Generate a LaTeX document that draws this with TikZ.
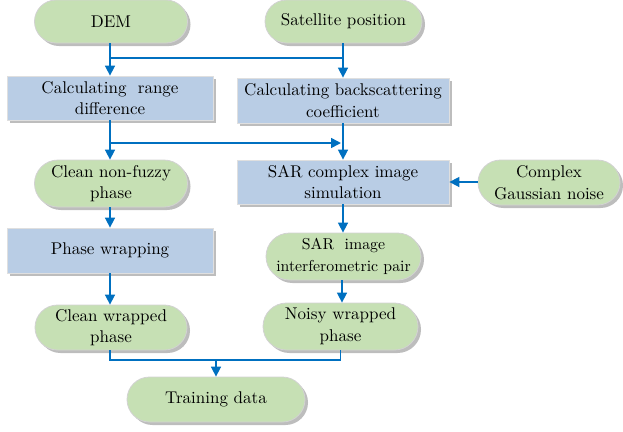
\documentclass[tikz,border=0pt]{standalone}
\usepackage{fontspec}
\setmainfont{lmroman10-regular.otf}
\usetikzlibrary{arrows.meta,shadows,shapes.misc}
\definecolor{pillgreen}{HTML}{C6E0B4}
\definecolor{boxblue}{HTML}{B9CDE5}
\definecolor{arrblue}{HTML}{0070C0}
\definecolor{shadowgray}{HTML}{BDBDBD}
\begin{document}
\begin{tikzpicture}[x=1bp,y=-1bp,
  every node/.style={font=\fontsize{17bp}{21.7bp}\selectfont, align=center, inner sep=0pt},
  pill/.style={rounded rectangle, draw=gray!35, line width=0.8bp, fill=pillgreen,
    drop shadow={shadow xshift=3bp, shadow yshift=-3bp, fill=shadowgray, opacity=1}},
  pbox/.style={rectangle, draw=gray!25, line width=0.8bp, fill=boxblue,
    drop shadow={shadow xshift=3bp, shadow yshift=-3bp, fill=shadowgray, opacity=1}},
  conn/.style={draw=arrblue, line width=1.6bp},
  arr/.style={conn, -{Triangle[length=10bp,width=10bp,fill=arrblue]}}
]
\useasboundingbox (0,0) rectangle (623,431);

\node[pill, minimum width=153bp, minimum height=43bp] (dem) at (111,21.5) {DEM};
\node[pill, minimum width=157bp, minimum height=43bp] (sat) at (343.5,21.5) {Satellite position};
\node[pbox, minimum width=206bp, minimum height=44bp] (range) at (110,98) {Calculating~ range\\difference};
\node[pbox, minimum width=212bp, minimum height=45bp] (back) at (343,100.5) {Calculating backscattering\\coefficient};
\node[pill, minimum width=153bp, minimum height=47bp] (nf) at (111,183.5) {Clean non-fuzzy\\phase};
\node[pbox, minimum width=212bp, minimum height=44bp] (sar) at (343,182) {SAR complex image\\simulation};
\node[pill, minimum width=142bp, minimum height=45bp] (noise) at (549,182.5) {Complex\\Gaussian noise};
\node[pbox, minimum width=206bp, minimum height=45bp] (pw) at (110,250.5) {Phase wrapping};
\node[pill, minimum width=155bp, minimum height=47bp, font=\fontsize{15.8bp}{21.7bp}\selectfont] (pair) at (343.5,256.5) {SAR~ image\\interferometric pair};
\node[pill, minimum width=152bp, minimum height=45bp] (cw) at (111,327.5) {Clean wrapped\\phase};
\node[pill, minimum width=155bp, minimum height=47bp] (noisy) at (340.5,326.5) {Noisy wrapped\\phase};
\node[pill, minimum width=178bp, minimum height=45bp] (tr) at (216,399.5) {Training data};

\coordinate (ytop) at (0,58);
\coordinate (ymid) at (0,143);
\coordinate (ybot) at (0,360);

% top junction
\draw[arr] (range.north |- dem.south) -- (range.north);
\draw[arr] (back.north |- sat.south) -- (back.north);
\draw[conn] (range.north |- ytop) -- (back.north |- ytop);

% range difference
\draw[arr] (range.south) -- (range.south |- nf.north);
\draw[arr] (range.south |- ymid) -- ([xshift=-2bp]sar.north |- ymid);

% right column
\draw[arr] (back.south) -- (sar.north);
\draw[arr] (noise.west |- sar.east) -- (sar.east);
\draw[arr] (sar.south) -- (sar.south |- pair.north);
\draw[arr] ([xshift=-1.5bp]pair.south) -- ([xshift=-1.5bp]pair.south |- noisy.north);

% left column
\draw[arr] (range.south |- nf.south) -- (pw.north);
\draw[arr] (pw.south) -- (pw.south |- cw.north);

% bottom
\draw[conn] (pw.south |- cw.south) -- (pw.south |- ybot) -- (noisy.south |- ybot) -- (noisy.south);
\draw[arr] (tr.north |- ybot) -- (tr.north);
\end{tikzpicture}
\end{document}
